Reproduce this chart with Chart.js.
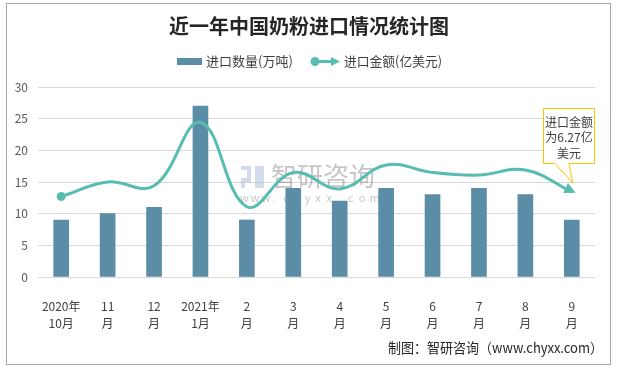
<!DOCTYPE html>
<html>
<head>
<meta charset="utf-8">
<script src="https://cdn.jsdelivr.net/npm/chart.js@4"></script>
<style>
  html, body { margin: 0; padding: 0; background: #fff; }
  #wrap { width: 620px; height: 369px; }
</style>
</head>
<body>
<div id="wrap"><canvas id="grafico" width="620" height="369"></canvas></div>
<script>
// datos
const meses = [['2020年', '10月'], ['11', '月'], ['12', '月'], ['2021年', '1月'], ['2', '月'], ['3', '月'],
  ['4', '月'], ['5', '月'], ['6', '月'], ['7', '月'], ['8', '月'], ['9', '月']];
const cantidad = [9, 10, 11, 27, 9, 14, 12, 14, 13, 14, 13, 9];        // 万吨
const importe = [5.93, 7.0, 6.72, 11.39, 5.18, 7.7, 6.49, 8.26, 7.7, 7.51, 7.89, 6.27]; // 亿美元
const ticksY = [0, 5, 10, 15, 20, 25, 30];

const titulo = '近一年中国奶粉进口情况统计图';
const nombreBarras = '进口数量(万吨)';
const nombreLinea = '进口金额(亿美元)';
const notaLineas = ['进口金额', '为6.27亿', '美元'];
const pie = '制图：智研咨询（www.chyxx.com）';

const colorBarra = '#5B8EA6';
const colorLinea = '#58BDB1';
const fuente = '"Noto Sans CJK SC", "Noto Sans", sans-serif';

const decor = {
  id: 'decor',
  beforeDraw(chart) {
    const ctx = chart.ctx;
    ctx.save();
    ctx.fillStyle = '#fff';
    ctx.fillRect(0, 0, chart.width, chart.height);
    ctx.strokeStyle = '#A9A9A9';
    ctx.lineWidth = 1;
    ctx.strokeRect(6.5, 3.5, 604, 361);
    ctx.restore();
  },
  beforeDatasetsDraw(chart) {
    // marca de agua
    const ctx = chart.ctx;
    ctx.save();
    ctx.fillStyle = 'rgba(160,175,210,0.45)';
    ctx.fillRect(241, 166, 10, 4);
    ctx.fillRect(247, 170, 4, 8);
    ctx.fillRect(241, 178, 10, 4);
    ctx.fillRect(241, 182, 4, 6);
    ctx.fillRect(255, 166, 9, 22);
    ctx.fillStyle = 'rgba(110,110,110,0.4)';
    ctx.font = '26px ' + fuente;
    ctx.textBaseline = 'middle';
    ctx.textAlign = 'left';
    ctx.fillText('智研咨询', 271, 176);
    ctx.font = '11px ' + fuente;
    const w = 'www.chyxx.com';
    for (let i = 0; i < w.length; i++) {
      ctx.fillText(w[i], 240 + i * 10.8, 198);
    }
    ctx.restore();
  },
  afterDatasetsDraw(chart) {
    const ctx = chart.ctx;
    const meta = chart.getDatasetMeta(1);
    const ult = meta.data[meta.data.length - 1];
    // flecha al final de la linea
    const ang = Math.atan2(ult.y - ult.cp1y, ult.x - ult.cp1x);
    ctx.save();
    ctx.translate(ult.x + 2, ult.y);
    ctx.rotate(ang);
    ctx.fillStyle = colorLinea;
    ctx.beginPath();
    ctx.moveTo(2, 0);
    ctx.lineTo(-9, -5.5);
    ctx.lineTo(-9, 5.5);
    ctx.closePath();
    ctx.fill();
    ctx.restore();

    // cuadro de nota
    const bx = 543.5, by = 108.5, bw = 51, bh = 55;
    const tipX = ult.x + 1, tipY = ult.y - 9;
    ctx.save();
    ctx.fillStyle = '#fff';
    ctx.strokeStyle = '#FFC000';
    ctx.lineWidth = 1;
    ctx.beginPath();
    ctx.moveTo(bx, by);
    ctx.lineTo(bx + bw, by);
    ctx.lineTo(bx + bw, by + bh);
    ctx.lineTo(569, by + bh);
    ctx.lineTo(tipX, tipY);
    ctx.lineTo(555, by + bh);
    ctx.lineTo(bx, by + bh);
    ctx.closePath();
    ctx.fill();
    ctx.stroke();
    ctx.fillStyle = '#404040';
    ctx.font = '12px ' + fuente;
    ctx.textAlign = 'center';
    ctx.textBaseline = 'middle';
    notaLineas.forEach((t, i) => ctx.fillText(t, bx + bw / 2, 122 + i * 15.5));
    ctx.restore();
  },
  afterDraw(chart) {
    const ctx = chart.ctx;
    ctx.save();
    // titulo
    ctx.fillStyle = '#262626';
    ctx.font = 'bold 20px ' + fuente;
    ctx.textAlign = 'center';
    ctx.textBaseline = 'middle';
    ctx.fillText(titulo, 309, 26, 284);

    // leyenda
    ctx.font = '13px ' + fuente;
    ctx.textAlign = 'left';
    ctx.fillStyle = colorBarra;
    ctx.fillRect(177, 58, 25, 7);
    ctx.fillStyle = '#404040';
    ctx.fillText(nombreBarras, 206, 61.5, 87);

    ctx.strokeStyle = colorLinea;
    ctx.fillStyle = colorLinea;
    ctx.lineWidth = 3;
    ctx.beginPath();
    ctx.moveTo(315, 61.5);
    ctx.lineTo(333, 61.5);
    ctx.stroke();
    ctx.beginPath();
    ctx.arc(315, 61.5, 4.5, 0, Math.PI * 2);
    ctx.fill();
    ctx.beginPath();
    ctx.moveTo(340, 61.5);
    ctx.lineTo(331, 57);
    ctx.lineTo(331, 66);
    ctx.closePath();
    ctx.fill();
    ctx.fillStyle = '#404040';
    ctx.fillText(nombreLinea, 344, 61.5, 98);

    // pie
    ctx.font = '14px ' + fuente;
    ctx.textAlign = 'right';
    ctx.fillStyle = '#262626';
    ctx.fillText(pie, 603, 348, 215);
    ctx.restore();
  }
};

const ctx = document.getElementById('grafico');

const chart = new Chart(ctx, {
  type: 'bar',
  data: {
    labels: meses,
    datasets: [{
      type: 'bar',
      label: nombreBarras,
      data: cantidad,
      backgroundColor: colorBarra,
      barThickness: 15,
      yAxisID: 'y',
      order: 2
    }, {
      type: 'line',
      label: nombreLinea,
      data: importe,
      borderColor: colorLinea,
      backgroundColor: colorLinea,
      borderWidth: 3,
      tension: 0.4,
      pointRadius: importe.map((v, i) => i === 0 ? 4.5 : 0),
      pointBorderWidth: 0,
      yAxisID: 'y2',
      order: 1
    }]
  },
  options: {
    responsive: false,
    animation: false,
    layout: { padding: { top: 87, left: 0, right: 25, bottom: 0 } },
    plugins: {
      legend: { display: false },
      tooltip: { enabled: false },
      title: { display: false }
    },
    scales: {
      x: {
        grid: { display: false },
        border: { display: false },
        ticks: {
          color: '#404040',
          font: { family: fuente, size: 12, lineHeight: 1.4 },
          padding: 13,
          maxRotation: 0,
          autoSkip: false
        },
        afterFit: (s) => { s.height = 92; }
      },
      y: {
        min: 0,
        max: 30,
        afterBuildTicks: (s) => { s.ticks = ticksY.map(v => ({ value: v })); },
        grid: { color: '#D9D9D9', drawTicks: false, lineWidth: 1 },
        border: { display: false },
        ticks: {
          color: '#595959',
          font: { family: fuente, size: 12 },
          padding: 10
        },
        afterFit: (s) => { s.width = 38; }
      },
      y2: {
        display: false,
        min: 0,
        max: 14
      }
    }
  },
  plugins: [decor]
});
</script>
</body>
</html>
